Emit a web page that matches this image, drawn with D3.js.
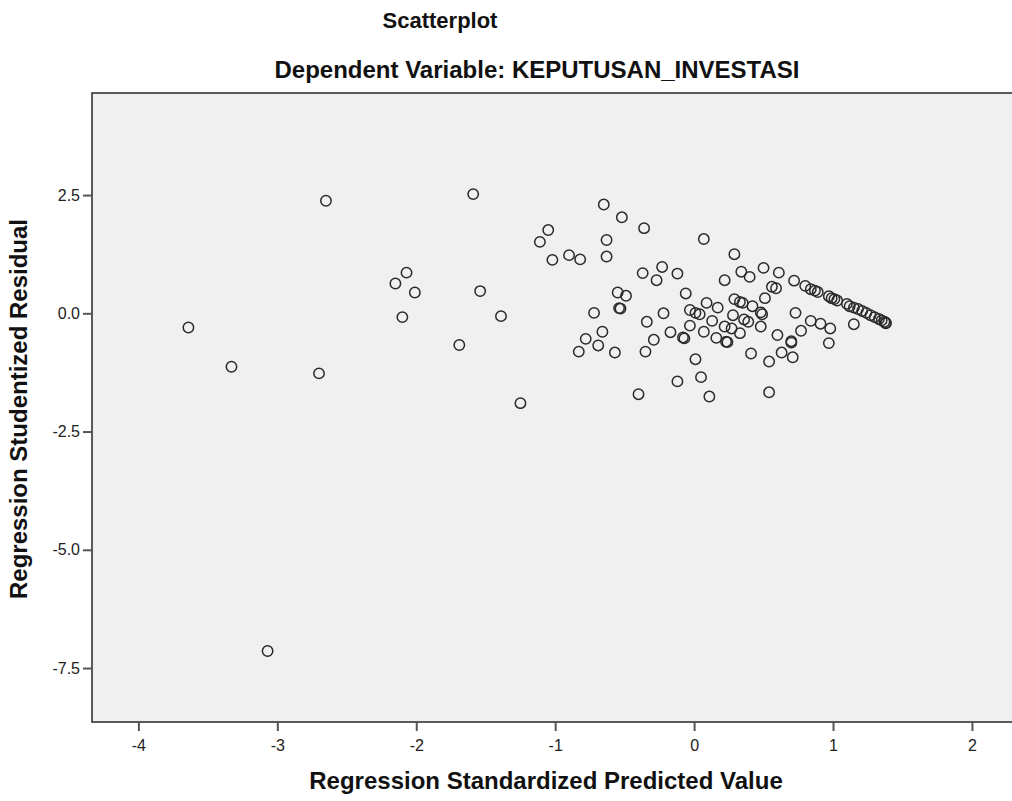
<!DOCTYPE html>
<html>
<head>
<meta charset="utf-8">
<script src="https://cdn.jsdelivr.net/npm/d3@7"></script>
<style>
  html, body { margin: 0; padding: 0; background: #ffffff; }
  svg { display: block; }
  text { font-family: "Liberation Sans", Arial, sans-serif; }
</style>
</head>
<body>
<svg id="chart" width="1012" height="801"></svg>
<script>
// ---- Data ----
const predictedValues = [
  -3.64, -3.33, -3.07, -2.70, -2.65, -2.15, -2.07, -2.01, -2.10, -1.59,
  -1.54, -1.69, -1.39, -1.25, -1.11, -1.05, -1.02, -0.90, -0.82, -0.83,
  -0.65, -0.52, -0.36, -0.63, -0.63, 0.07, 0.29, -0.37, -0.23, -0.27,
  -0.12, 0.22, 0.34, 0.40, 0.50, 0.61, 0.56, 0.59, -0.55, -0.49,
  -0.06, 0.29, 0.33, 0.35, 0.51, 0.09, 0.17, 0.42, 0.48, 0.49,
  0.73, -0.72, -0.54, -0.53, -0.34, -0.22, -0.03, 0.01, 0.04, 0.13,
  0.28, 0.36, 0.39, 0.48, 0.33, 0.84, 0.91, 0.98, 1.15, 0.77,
  0.60, 0.70, 0.70, 0.97, -0.66, -0.78, -0.69, -0.57, -0.29, -0.35,
  -0.17, -0.08, -0.07, -0.03, 0.07, 0.16, 0.22, 0.27, 0.23, 0.24,
  0.01, 0.41, 0.54, 0.63, 0.71, -0.12, 0.05, -0.40, 0.11, 0.54,
  0.72, 0.80, 0.84, 0.87, 0.89, 0.97, 0.99, 1.01, 1.03, 1.10,
  1.12, 1.15, 1.18, 1.21, 1.24, 1.27, 1.30, 1.33, 1.35, 1.37,
  1.38, 1.38
];
const residualValues = [
  -0.30, -1.13, -7.14, -1.27, 2.38, 0.63, 0.86, 0.44, -0.08, 2.52,
  0.47, -0.67, -0.06, -1.90, 1.51, 1.76, 1.13, 1.23, 1.14, -0.81,
  2.30, 2.03, 1.80, 1.55, 1.20, 1.57, 1.25, 0.85, 0.98, 0.70,
  0.84, 0.70, 0.88, 0.77, 0.96, 0.86, 0.56, 0.53, 0.44, 0.37,
  0.42, 0.30, 0.24, 0.22, 0.32, 0.22, 0.12, 0.15, 0.02, -0.02,
  0.01, 0.01, 0.11, 0.10, -0.18, 0.00, 0.07, 0.01, -0.02, -0.16,
  -0.04, -0.13, -0.18, -0.28, -0.42, -0.16, -0.22, -0.32, -0.23, -0.37,
  -0.46, -0.59, -0.62, -0.63, -0.39, -0.54, -0.68, -0.83, -0.56, -0.81,
  -0.40, -0.51, -0.53, -0.26, -0.39, -0.52, -0.28, -0.32, -0.60, -0.61,
  -0.97, -0.85, -1.02, -0.83, -0.93, -1.44, -1.35, -1.71, -1.76, -1.67,
  0.69, 0.58, 0.51, 0.48, 0.45, 0.36, 0.32, 0.30, 0.27, 0.20,
  0.15, 0.12, 0.09, 0.05, 0.01, -0.04, -0.08, -0.12, -0.15, -0.18,
  -0.20, -0.21
];
const xTickValues = [-4, -3, -2, -1, 0, 1, 2];
const xTickLabels = ["-4", "-3", "-2", "-1", "0", "1", "2"];
const yTickValues = [2.5, 0.0, -2.5, -5.0, -7.5];
const yTickLabels = ["2.5", "0.0", "-2.5", "-5.0", "-7.5"];
const chartTitle = "Scatterplot";
const chartSubtitle = "Dependent Variable: KEPUTUSAN_INVESTASI";
const xAxisTitle = "Regression Standardized Predicted Value";
const yAxisTitle = "Regression Studentized Residual";

const points = predictedValues.map((v, i) => ({ x: v, y: residualValues[i] }));

// ---- Layout ----
const svg = d3.select("#chart");
const plot = { left: 92, top: 93, right: 1030, bottom: 722 };

const x = d3.scaleLinear().domain([-4.334, 2.418]).range([plot.left, plot.right]);
const y = d3.scaleLinear().domain([-8.641, 4.658]).range([plot.bottom, plot.top]);

// plot background
svg.append("rect")
  .attr("x", plot.left).attr("y", plot.top)
  .attr("width", plot.right - plot.left).attr("height", plot.bottom - plot.top)
  .attr("fill", "#f0f0f0")
  .attr("stroke", "#333").attr("stroke-width", 1.6);

// x axis
const xAxis = svg.append("g")
  .attr("transform", `translate(0,${plot.bottom})`)
  .call(d3.axisBottom(x).tickValues(xTickValues)
    .tickFormat((d, i) => xTickLabels[i]).tickSize(9).tickPadding(9));
xAxis.select(".domain").remove();
xAxis.selectAll(".tick line").attr("stroke", "#555").attr("stroke-width", 2);
xAxis.selectAll(".tick text").attr("fill", "#222").style("font-size", "16px");

// y axis
const yAxis = svg.append("g")
  .attr("transform", `translate(${plot.left},0)`)
  .call(d3.axisLeft(y).tickValues(yTickValues)
    .tickFormat((d, i) => yTickLabels[i]).tickSize(9).tickPadding(3));
yAxis.select(".domain").remove();
yAxis.selectAll(".tick line").attr("stroke", "#555").attr("stroke-width", 2);
yAxis.selectAll(".tick text").attr("fill", "#222").style("font-size", "16px");

// points
svg.append("g").selectAll("circle")
  .data(points)
  .join("circle")
  .attr("cx", d => x(d.x))
  .attr("cy", d => y(d.y))
  .attr("r", 5.2)
  .attr("fill", "none")
  .attr("stroke", "#2a2a2a")
  .attr("stroke-width", 1.5);

// titles
svg.append("text")
  .attr("x", 440).attr("y", 28)
  .attr("text-anchor", "middle")
  .style("font-size", "22px").style("font-weight", "bold")
  .attr("fill", "#111")
  .text(chartTitle);

svg.append("text")
  .attr("x", 537).attr("y", 78)
  .attr("text-anchor", "middle")
  .style("font-size", "24px").style("font-weight", "bold")
  .attr("fill", "#111")
  .text(chartSubtitle);

svg.append("text")
  .attr("x", 546).attr("y", 789)
  .attr("text-anchor", "middle")
  .style("font-size", "24px").style("font-weight", "bold")
  .attr("fill", "#111")
  .text(xAxisTitle);

svg.append("text")
  .attr("transform", `translate(27,409) rotate(-90)`)
  .attr("text-anchor", "middle")
  .style("font-size", "24px").style("font-weight", "bold")
  .attr("fill", "#111")
  .text(yAxisTitle);
</script>
</body>
</html>
